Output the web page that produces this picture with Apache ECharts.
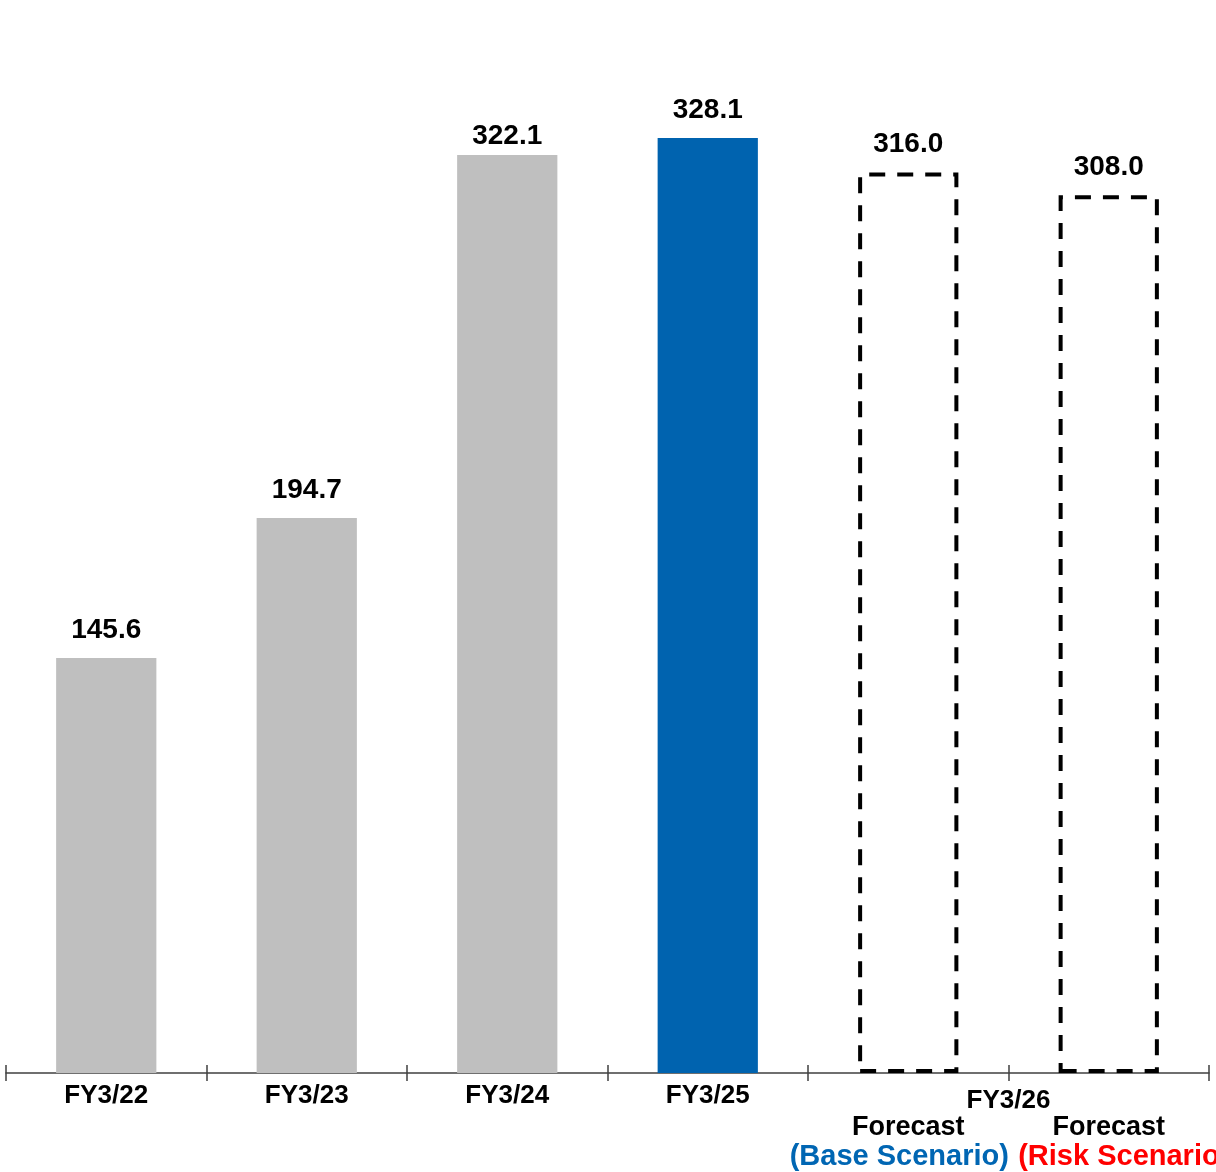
<!DOCTYPE html>
<html>
<head>
<meta charset="utf-8">
<script src="https://cdn.jsdelivr.net/npm/echarts@6/dist/echarts.min.js"></script>
<style>
  html, body { margin: 0; padding: 0; background: #ffffff; overflow: hidden; }
  #chart { width: 1216px; height: 1172px; }
</style>
</head>
<body>
<div id="chart"></div>
<script>
// Fiscal years and values
const categories = ['FY3/22', 'FY3/23', 'FY3/24', 'FY3/25', 'FY3/26 Base', 'FY3/26 Risk'];
const values = [145.6, 194.7, 322.1, 328.1, 316.0, 308.0];
const forecastYear = 'FY3/26';
const forecastLabel = 'Forecast';
const scenarioLabels = ['(Base Scenario)', '(Risk Scenario)'];

const FONT = 'Liberation Sans, Arial, sans-serif';
const GRAY = '#bfbfbf';
const BLUE = '#0063af';

const barData = values.map((v, i) => {
  const item = { value: v };
  if (i < 3) item.itemStyle = { color: GRAY };
  else if (i === 3) item.itemStyle = { color: BLUE };
  else {
    item.itemStyle = {
      color: 'rgba(255,255,255,0)',
      borderColor: '#000000',
      borderWidth: 4,
      borderType: [16, 12]
    };
  }
  // FY3/24 label sits closer to its bar
  if (i === 2) item.label = { distance: 5 };
  return item;
});

const chart = echarts.init(document.getElementById('chart'), null, { renderer: 'canvas' });

const option = {
  animation: false,
  backgroundColor: '#ffffff',
  grid: { left: 6, right: 7, top: 47, bottom: 99, containLabel: false, outerBoundsMode: 'none' },
  xAxis: [
    {
      type: 'category',
      data: categories,
      axisLine: { show: true, lineStyle: { color: '#404040', width: 1.5 } },
      axisTick: { show: true, length: 8, lineStyle: { color: '#404040', width: 1.5 } },
      axisLabel: {
        interval: 0,
        margin: 10,
        color: '#000000',
        fontFamily: FONT,
        fontWeight: 'bold',
        fontSize: 26,
        lineHeight: 26,
        formatter: (v, i) => {
          if (i < 4) return v;
          const key = i === 4 ? 'b' : 'r';
          return '{g| }\n{f|' + forecastLabel + '}\n{' + key + '|' + scenarioLabels[i - 4] + '}';
        },
        rich: {
          g: { fontSize: 26, lineHeight: 31, fontFamily: FONT },
          f: { fontSize: 27, lineHeight: 28, fontWeight: 'bold', color: '#000000', fontFamily: FONT },
          b: { fontSize: 29, lineHeight: 30, fontWeight: 'bold', color: '#0066b3', fontFamily: FONT, padding: [0, 18, 0, 0] },
          r: { fontSize: 29, lineHeight: 30, fontWeight: 'bold', color: '#ff0000', fontFamily: FONT, padding: [0, 0, 0, 30] }
        }
      }
    },
    {
      // upper half of the crossing tick marks
      type: 'category',
      data: categories,
      position: 'bottom',
      axisLine: { show: false },
      axisTick: { show: true, inside: true, length: 8, lineStyle: { color: '#404040', width: 1.5 } },
      axisLabel: { show: false }
    }
  ],
  yAxis: {
    type: 'value',
    min: 0,
    max: 360,
    show: false,
    splitLine: { show: false }
  },
  series: [
    {
      type: 'bar',
      xAxisIndex: 0,
      data: barData,
      barWidth: '50%',
      label: {
        show: true,
        position: 'top',
        distance: 14,
        color: '#000000',
        fontFamily: FONT,
        fontWeight: 'bold',
        fontSize: 28,
        formatter: p => p.value.toFixed(1)
      }
    }
  ]
};

chart.setOption(option);

// Shared year caption between the two forecast columns
const x1 = chart.convertToPixel({ xAxisIndex: 0 }, categories[4]);
const x2 = chart.convertToPixel({ xAxisIndex: 0 }, categories[5]);
const yBase = chart.convertToPixel({ yAxisIndex: 0 }, 0);
chart.setOption({
  graphic: [{
    type: 'text',
    x: (x1 + x2) / 2,
    y: yBase + 28,
    style: {
      text: forecastYear,
      fill: '#000000',
      font: 'bold 26px ' + FONT,
      align: 'center',
      verticalAlign: 'middle'
    }
  }]
});
</script>
</body>
</html>
